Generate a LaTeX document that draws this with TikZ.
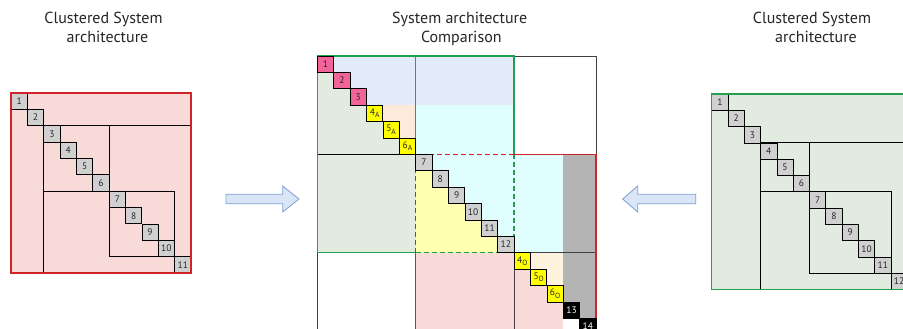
\documentclass[tikz,border=0pt]{standalone}
\usepackage{fontspec}
\setmainfont{PT Sans}

\definecolor{clPink}{HTML}{F8DAD8}
\definecolor{clGreenBg}{HTML}{E2EBDF}
\definecolor{clBlue}{HTML}{E3EBF9}
\definecolor{clPeach}{HTML}{FCEADB}
\definecolor{clCyan}{HTML}{E1FEFE}
\definecolor{clYellowBg}{HTML}{FFFFB0}
\definecolor{clCream}{HTML}{FEF3DD}
\definecolor{clGreyBg}{HTML}{B4B4B4}
\definecolor{clCell}{HTML}{D0D0D0}
\definecolor{clMagenta}{HTML}{F0649A}
\definecolor{clYellow}{HTML}{FFFF00}
\definecolor{clRed}{HTML}{D2232A}
\definecolor{clGreen}{HTML}{22A04B}
\definecolor{clArrowFill}{HTML}{DAE6F8}
\definecolor{clArrowLine}{HTML}{7F9DD1}
\definecolor{clText}{HTML}{262626}

% subscript letter used in the comparison labels
\newcommand\blocksub[1]{\raisebox{-0.25em}{\fontsize{7.5}{8}\selectfont #1}}

\tikzset{
  title/.style={anchor=base, inner sep=0pt, font=\fontsize{16}{19}\selectfont, text=clText},
  cell/.style={draw=black, line width=0.8pt, fill=clCell, minimum size=16.3pt,
    inner sep=0pt, font=\fontsize{9.5}{10}\selectfont, text=clText},
  grid/.style={draw=black, line width=0.9pt},
  frame/.style={draw=black!75, line width=0.9pt},
  sepline/.style={draw=black!55, line width=1.2pt},
  gsolid/.style={draw=clGreen, line width=1.3pt},
  gdash/.style={draw=clGreen, line width=1.3pt, dash pattern=on 5pt off 3pt},
  rsolid/.style={draw=clRed, line width=1.3pt},
  rdash/.style={draw=clRed, line width=1.3pt, dash pattern=on 5pt off 3pt},
  blockarrow/.style={draw=clArrowLine, fill=clArrowFill, line width=0.8pt, line join=miter}
}

\begin{document}
\begin{tikzpicture}[x=1pt, y=-1pt]
\clip (0,0) rectangle (903,329);
\fill[white] (0,0) rectangle (903,329);

% headings
\node[title] (tl1) at (103.5,24) {Clustered System};
\node[title] (tl2) at (107.5,43) {architecture};
\node[title] (tm1) at (459.7,24) {System architecture};
\node[title] (tm2) at (461.3,43) {Comparison};
\node[title] (tr1) at (812,24) {Clustered System};
\node[title] (tr2) at (816,43) {architecture};

% left clustered matrix (11 blocks)
\begin{scope}[shift={(11,93)}, x=16.36pt, y=-16.36pt]
  \fill[clPink] (0,0) rectangle (11,11);
  \draw[grid] (2,11) -- (2,2) -- (11,2);
  \draw[grid] (2,6) -- (10,6) -- (10,10) -- (6,10) -- (6,2);
  \foreach \i in {1,...,11}
    \node[cell] (L\i) at ({\i-0.5},{\i-0.5}) {\i};
  \draw[rsolid] (0,0) rectangle (11,11);
\end{scope}

% right clustered matrix (12 blocks)
\begin{scope}[shift={(711.7,94)}, x=16.3pt, y=-16.3pt]
  \fill[clGreenBg] (0,0) rectangle (12,12);
  \draw[grid] (3,12) -- (3,3) -- (12,3);
  \draw[grid] (3,6) -- (11,6) -- (11,11) -- (6,11) -- (6,3);
  \foreach \i in {1,...,12}
    \node[cell] (R\i) at ({\i-0.5},{\i-0.5}) {\i};
  \draw[gsolid] (0,0) rectangle (12,12);
\end{scope}

% comparison matrix (17 blocks)
\begin{scope}[shift={(317.3,56)}, x=16.4pt, y=-16.4pt]
  \fill[clGreenBg] (0,0) rectangle (6,12);
  \foreach \r in {0,1,2} \fill[clBlue] (\r,\r) rectangle (12,\r+1);
  \foreach \r in {3,4,5} \fill[clPeach] (\r,\r) rectangle (6,\r+1);
  \fill[clCyan] (6,3) rectangle (12,6);
  \fill[clYellowBg] (6,6) rectangle (12,12);
  \foreach \r in {6,...,11} \fill[clCyan] (\r,\r) rectangle (15,\r+1);
  \fill[clPink] (6,12) rectangle (15,17.5);
  \foreach \r in {12,13,14} \fill[clCream] (\r,\r) rectangle (15,\r+1);
  \fill[clGreyBg] (15,6) rectangle (17,16);

  \draw[frame] (12,0) -- (17,0) -- (17,6);
  \draw[frame] (0,12) -- (0,17.5);
  \draw[frame] (12,17.5) -- (12,12) -- (17,12);
  \draw[grid] (0,6) -- (6,6);
  \draw[sepline] (6,0) -- (6,6);

  \draw[gsolid] (6,12) -- (0,12) -- (0,0) -- (12,0) -- (12,6);
  \draw[gdash] (6,12) -- (12,12) -- (12,6);
  \draw[rsolid] (12,6) -- (17,6) -- (17,17.5);
  \draw[rsolid] (6,12) -- (6,17.5);
  \draw[rdash] (12,6) -- (6,6) -- (6,12);

  \foreach \i in {1,2,3}
    \node[cell, fill=clMagenta] (M\i) at ({\i-0.5},{\i-0.5}) {\i};
  \foreach \i/\n in {4/4,5/5,6/6}
    \node[cell, fill=clYellow] (M\i) at ({\i-0.5},{\i-0.5}) {\n\blocksub{A}};
  \foreach \i in {7,...,12}
    \node[cell] (M\i) at ({\i-0.5},{\i-0.5}) {\i};
  \foreach \i/\n in {13/4,14/5,15/6}
    \node[cell, fill=clYellow] (M\i) at ({\i-0.5},{\i-0.5}) {\n\blocksub{O}};
  \node[cell, fill=black, text=white] (M16) at (15.5,15.5) {13};
  \node[cell, fill=black, text=white] (M17) at (16.5,16.5) {14};
\end{scope}

% block arrows pointing at the comparison
\draw[blockarrow] (226,194.3) -- (282.7,194.3) -- (282.7,186) -- (299,199)
  -- (282.7,212) -- (282.7,203.7) -- (226,203.7) -- cycle;
\draw[blockarrow] (695.7,194.3) -- (637.7,194.3) -- (637.7,186) -- (622.7,199)
  -- (637.7,212) -- (637.7,203.7) -- (695.7,203.7) -- cycle;
\end{tikzpicture}
\end{document}
